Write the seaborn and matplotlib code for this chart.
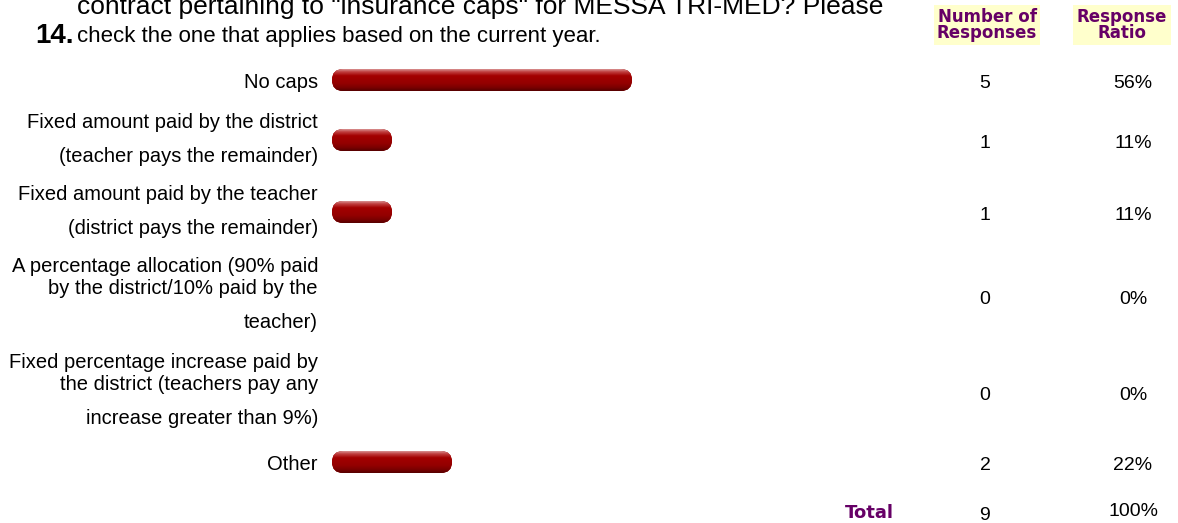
import numpy as np
import pandas as pd
import matplotlib
matplotlib.use("Agg")
import matplotlib.pyplot as plt
import seaborn as sns
from matplotlib.patches import FancyBboxPatch
from matplotlib.colors import LinearSegmentedColormap

# ---------------- data ----------------
question_number = "14."
question_lines = ['contract pertaining to "insurance caps" for MESSA TRI-MED? Please',
                  'check the one that applies based on the current year.']
categories = [
    ["No caps"],
    ["Fixed amount paid by the district", "(teacher pays the remainder)"],
    ["Fixed amount paid by the teacher", "(district pays the remainder)"],
    ["A percentage allocation (90% paid", "by the district/10% paid by the", "teacher)"],
    ["Fixed percentage increase paid by", "the district (teachers pay any", "increase greater than 9%)"],
    ["Other"],
]
counts = [5, 1, 1, 0, 0, 2]
ratios = ["56%", "11%", "11%", "0%", "0%", "22%"]
total_label = "Total"
total_count = 9
total_ratio = "100%"
header_count = "Number of\nResponses"
header_ratio = "Response\nRatio"

# ---------------- layout (pixels from top) ----------------
W, H = 1178, 523
row_y = [80, 140, 212, 296, 392, 462]
label_offsets = {1: [3], 2: [-17, 17], 3: [-29, -7, 26]}
BAR_LEFT = 332
BAR_AX_W = 600          # px -> xlim 0..10 gives 60 px per response
BAR_H = 22
LABEL_X = 318
NUM_X = 985
RATIO_X = 1133
ARIAL = "Liberation Sans"
PURPLE = "#660066"

sns.set_theme(style="white")
plt.rcParams["font.family"] = ["Liberation Sans", "DejaVu Sans"]
plt.rcParams["text.color"] = "black"

fig = plt.figure(figsize=(W / 100, H / 100), dpi=100)
fig.patch.set_facecolor("white")

bg = fig.add_axes([0, 0, 1, 1])
bg.set_xlim(0, W)
bg.set_ylim(H, 0)
bg.axis("off")

ax = fig.add_axes([BAR_LEFT / W, 0, BAR_AX_W / W, 1])
ax.patch.set_alpha(0)
df = pd.DataFrame({"count": counts, "row": row_y})
min_gap = np.min(np.diff(sorted(row_y)))
sns.barplot(data=df, x="count", y="row", orient="h", native_scale=True,
            width=BAR_H / min_gap, color="#990000", errorbar=None, ax=ax)

x_max = 10
px_per_unit = BAR_AX_W / x_max
cmap = LinearSegmentedColormap.from_list(
    "bar", [(0.0, "#d89090"), (0.12, "#c04040"), (0.3, "#a30000"),
            (0.65, "#940000"), (0.85, "#7a0000"), (1.0, "#560000")])
grad = np.linspace(0, 1, 64).reshape(-1, 1)
for p in list(ax.patches):
    x, y, w, h = p.get_x(), p.get_y(), p.get_width(), p.get_height()
    p.set_visible(False)
    if w <= 0:
        continue
    y0, y1 = min(y, y + h), max(y, y + h)
    hh = y1 - y0
    r = (hh / 2) / px_per_unit
    fb = FancyBboxPatch((x, y0), w, hh, boxstyle=f"round,pad=0,rounding_size={r}",
                        mutation_aspect=px_per_unit, facecolor="#990000",
                        edgecolor="none", zorder=2)
    ax.add_patch(fb)
    im = ax.imshow(grad, extent=(x, x + w, y1, y0), aspect="auto", cmap=cmap,
                   origin="upper", zorder=3, interpolation="bilinear")
    im.set_clip_path(fb)

ax.set_xlim(0, x_max)
ax.set_ylim(H, 0)
ax.axis("off")

# ---------------- text ----------------
bg.text(77, 14, question_lines[0], fontsize=19, va="baseline", ha="left", family=ARIAL, color="black")
bg.text(77, 42, question_lines[1], fontsize=16, va="baseline", ha="left", family=ARIAL, color="black")
bg.text(35, 43, question_number, fontsize=20, fontweight="bold", va="baseline", ha="left",
        family=ARIAL, color="black")

for txt, cx in [(header_count, 987), (header_ratio, 1122)]:
    bg.text(cx, 25, txt, fontsize=12, fontweight="bold", color=PURPLE, ha="center",
            va="center", multialignment="center", linespacing=0.88, family="DejaVu Sans",
            bbox=dict(boxstyle="square,pad=0.2", fc="#ffffcc", ec="none"))

for lines, ry, c, rt in zip(categories, row_y, counts, ratios):
    for line, off in zip(lines, label_offsets[len(lines)]):
        bg.text(LABEL_X, ry + off, line, fontsize=14.5, ha="right", va="center", family=ARIAL,
                color="black")
    bg.text(NUM_X, ry + 4, str(c), fontsize=14, ha="center", va="center", family=ARIAL, color="black")
    bg.text(RATIO_X, ry + 4, rt, fontsize=14, ha="center", va="center", family=ARIAL, color="black")

bg.text(869, 513, total_label, fontsize=13, fontweight="bold", color=PURPLE,
        ha="center", va="center", family="DejaVu Sans")
bg.text(NUM_X, 515, str(total_count), fontsize=14, ha="center", va="center", family=ARIAL, color="black")
bg.text(RATIO_X, 512, total_ratio, fontsize=14, ha="center", va="center", family=ARIAL, color="black")

fig.savefig("out.png", dpi=100, facecolor="white")
